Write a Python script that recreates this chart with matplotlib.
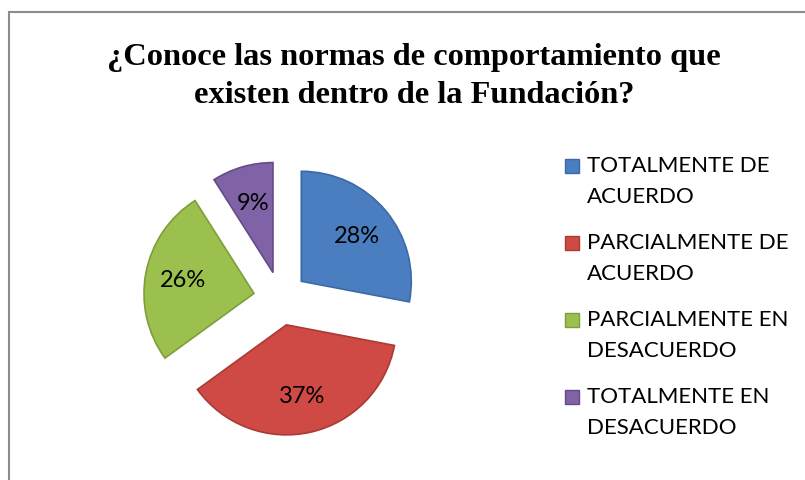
import matplotlib.pyplot as plt
from matplotlib.patches import Rectangle

# data
categories = ["TOTALMENTE DE\nACUERDO", "PARCIALMENTE DE\nACUERDO",
              "PARCIALMENTE EN\nDESACUERDO", "TOTALMENTE EN\nDESACUERDO"]
values = [28, 37, 26, 9]
colors = ["#4A7EC1", "#CF4A45", "#9CC04D", "#8062A6"]
edges = ["#3C6AA6", "#A93A36", "#7E9E3A", "#654C88"]
title = "¿Conoce las normas de comportamiento que\nexisten dentro de la Fundación?"

W, H = 805, 481
fig = plt.figure(figsize=(W / 100, H / 100), dpi=100)
ax = fig.add_axes([0, 0, 1, 1])

label_font = ["Lato", "DejaVu Sans"]

wedges, texts, autotexts = ax.pie(
    values, explode=[27] * len(values), startangle=90, counterclock=False,
    colors=colors, radius=110, center=(280.5, H - 299.5),
    autopct="%1.0f%%", pctdistance=0.66,
    wedgeprops=dict(linewidth=1.2),
    textprops=dict(fontsize=17, family=label_font, color="black"))
for w, ec in zip(wedges, edges):
    w.set_edgecolor(ec)

ax.set_xlim(0, W)
ax.set_ylim(0, H)
ax.set_aspect("equal")
ax.axis("off")

# outer chart frame (cut by the image edge on the right and bottom)
ax.add_patch(Rectangle((9, -20), W + 20, H - 12.5 + 20, fill=False,
                       edgecolor="#8C8C8C", linewidth=1.5))

# title
lines = title.split("\n")
for i, line in enumerate(lines):
    ax.text(414, H - 65 - 38 * i, line, ha="center", va="baseline",
            fontsize=23.3, fontweight="bold", family="Liberation Serif")

# legend
for i, (lab, c, ec) in enumerate(zip(categories, colors, edges)):
    base = H - 172 - 77 * i
    ax.add_patch(Rectangle((565, base - 2), 14, 14, facecolor=c,
                           edgecolor=ec, linewidth=1))
    for j, part in enumerate(lab.split("\n")):
        ax.text(587, base - 31 * j, part, ha="left", va="baseline",
                fontsize=16, family=label_font)

fig.savefig("out.png", dpi=100)
